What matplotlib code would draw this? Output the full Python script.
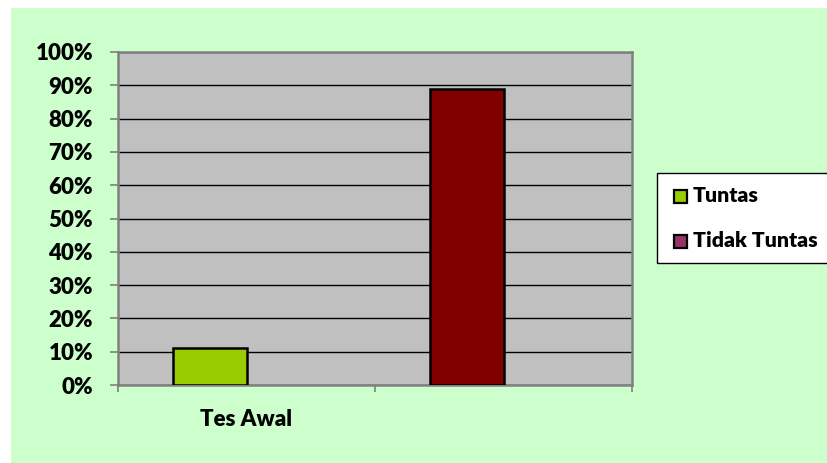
import matplotlib
matplotlib.use("Agg")
import matplotlib.pyplot as plt
from matplotlib.patches import Rectangle
from matplotlib.ticker import FixedLocator, PercentFormatter

# ---- data ----
categories = ["Tes Awal", ""]
series_names = ["Tuntas", "Tidak Tuntas"]
values = [11, 89]              # percent, one bar per category
bar_colors = ["#99cc00", "#800000"]
legend_colors = ["#99cc00", "#993366"]
y_ticks = [0, 10, 20, 30, 40, 50, 60, 70, 80, 90, 100]

W, H = 827, 463
fig = plt.figure(figsize=(W / 100, H / 100), dpi=100)
fig.patch.set_facecolor("white")
FONT = "Lato"
WEIGHT = "heavy"

# green chart-area background
fig.patches.append(Rectangle((11 / W, 0), 1 - 11 / W, (H - 8) / H,
                             transform=fig.transFigure, facecolor="#ccffcc",
                             edgecolor="none", zorder=-10))

ax = fig.add_axes([118 / W, 1 - 385 / H, (632 - 118) / W, (385 - 52) / H])
ax.set_zorder(1)
ax.set_facecolor("#c0c0c0")

xpos = list(range(len(categories)))
offset = -0.142
width = 0.288
ax.bar([x + offset for x in xpos], values, width=width, color=bar_colors,
       edgecolor="black", linewidth=1.8, zorder=3)

ax.set_xlim(-0.5, len(categories) - 0.5)
ax.set_ylim(0, 100)
ax.yaxis.set_major_locator(FixedLocator(y_ticks))
ax.yaxis.set_major_formatter(PercentFormatter(decimals=0))
ax.grid(axis="y", color="black", linewidth=1.0, zorder=1)
ax.set_axisbelow(True)

# category boundaries as major ticks, labels at centers as minor ticks
ax.xaxis.set_major_locator(FixedLocator([x - 0.5 for x in xpos] + [xpos[-1] + 0.5]))
ax.xaxis.set_major_formatter(plt.NullFormatter())
ax.xaxis.set_minor_locator(FixedLocator(xpos))
ax.set_xticklabels(categories, minor=True)
ax.tick_params(axis="x", which="minor", length=0, pad=17)
ax.tick_params(axis="x", which="major", length=5, width=1.2, color="#808080")
ax.tick_params(axis="y", length=6, width=1.2, color="#808080", pad=12)

for lbl in ax.get_yticklabels() + ax.get_xticklabels(minor=True):
    lbl.set_fontfamily(FONT)
    lbl.set_fontweight(WEIGHT)
    lbl.set_fontsize(16)
    lbl.set_color("black")

for s in ax.spines.values():
    s.set_color("#808080")
    s.set_linewidth(1.8)

# legend box
fig.patches.append(Rectangle((657 / W, 1 - 263 / H), (W + 5 - 657) / W, (263 - 173) / H,
                             transform=fig.transFigure, facecolor="white",
                             edgecolor="black", linewidth=1.0, zorder=5,
                             clip_on=False))
for i, (name, col) in enumerate(zip(series_names, legend_colors)):
    yc = 196 + i * 45
    fig.patches.append(Rectangle((674 / W, 1 - (yc + 7) / H), 13 / W, 13 / H,
                                 transform=fig.transFigure, facecolor=col,
                                 edgecolor="black", linewidth=1.6, zorder=6))
    fig.text(693 / W, 1 - yc / H, name, fontfamily=FONT, fontweight=WEIGHT,
             fontsize=15.3, va="center", ha="left", zorder=7)

fig.savefig("out.png", dpi=100)
